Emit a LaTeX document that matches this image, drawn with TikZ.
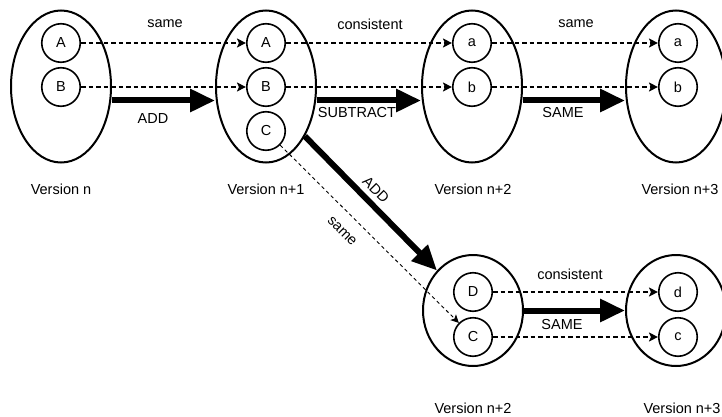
\documentclass[tikz,border=0pt]{standalone}
\usepackage{fontspec}
\setmainfont{Liberation Sans}
\usetikzlibrary{shapes.geometric,arrows.meta}
\begin{document}
\begin{tikzpicture}[x=1pt,y=-1pt,
  ver/.style={ellipse,draw,line width=2pt,inner sep=0pt,minimum width=100pt,minimum height=152pt},
  verlow/.style={ellipse,draw,line width=2pt,inner sep=0pt,minimum width=100pt,minimum height=111pt},
  item/.style={circle,draw,line width=1.6pt,inner sep=0pt,minimum size=38.5pt,font=\fontsize{14.5}{17}\selectfont},
  lbl/.style={font=\fontsize{14.5}{17}\selectfont,inner sep=0pt},
  dsh/.style={line width=1.2pt,dash pattern=on 4.5pt off 3pt,-{Stealth[length=9pt,width=9pt,inset=2pt]}},
  dshfine/.style={line width=0.9pt,dash pattern=on 3.5pt off 3pt,-{Stealth[length=8pt,width=8pt,inset=2pt]}},
  big/.style={line width=6pt,-{Triangle[length=25pt,width=22pt]}}
]
\useasboundingbox (0,0) rectangle (722,417);
% ellipses
\node[ver] (e1) at (61,86.5) {};
\node[ver] (e2) at (266,86.5) {};
\node[ver] (e3) at (472,86.5) {};
\node[ver] (e4) at (676,86.5) {};
\node[verlow] (f1) at (473,310.5) {};
\node[verlow] (f2) at (676,310.5) {};
% items
\node[item] (A1) at (61,43) {A};
\node[item] (B1) at (61,87) {B};
\node[item] (A2) at (266,43) {A};
\node[item] (B2) at (266,87) {B};
\node[item] (C2) at (266,131) {C};
\node[item] (a3) at (472,43) {a};
\node[item] (b3) at (472,87) {b};
\node[item] (a4) at (678,43) {a};
\node[item] (b4) at (678,87) {b};
\node[item] (D5) at (473,292) {D};
\node[item] (C5) at (473,337) {C};
\node[item] (d6) at (678,292) {d};
\node[item] (c6) at (678,337) {c};
% version labels
\node[lbl] (v1) at (61,189) {Version n};
\node[lbl] (v2) at (266,189) {Version n+1};
\node[lbl] (v3) at (473,189) {Version n+2};
\node[lbl] (v4) at (680,189) {Version n+3};
\node[lbl] (v5) at (473,408) {Version n+2};
\node[lbl] (v6) at (682,408) {Version n+3};
% dashed arrows
\draw[dsh] (A1) -- (A2);
\draw[dsh] (B1) -- (B2);
\draw[dsh] (A2) -- (a3);
\draw[dsh] (B2) -- (b3);
\draw[dsh] (a3) -- (a4);
\draw[dsh] (b3) -- (b4);
\draw[dsh] (D5) -- (d6);
\draw[dsh] (C5) -- (c6);
\draw[dshfine] (C2) -- (C5);
% thick arrows
\draw[big] ([yshift=-14pt]e1.east) -- ([yshift=-14pt]e2.west);
\draw[big] ([yshift=-14pt]e2.east) -- ([yshift=-14pt]e3.west);
\draw[big] ([yshift=-14pt]e3.east) -- ([yshift=-14pt]e4.west);
\draw[big] (e2.-52) -- (f1.132);
\draw[big] (f1.east) -- (f2.west);
% connector labels
\node[lbl] (t1) at (165,24) {same};
\node[lbl] (t2) at (370,24) {consistent};
\node[lbl] (t3) at (576,24) {same};
\node[lbl] (t4) at (153,119) {ADD};
\node[lbl] (t5) at (357,113) {SUBTRACT};
\node[lbl] (t6) at (563,113) {SAME};
\node[lbl,rotate=-45] (t7) at (376,190) {ADD};
\node[lbl,rotate=-45] (t8) at (342,231) {same};
\node[lbl] (t9) at (570,274) {consistent};
\node[lbl] (t10) at (562,325) {SAME};
\end{tikzpicture}
\end{document}
